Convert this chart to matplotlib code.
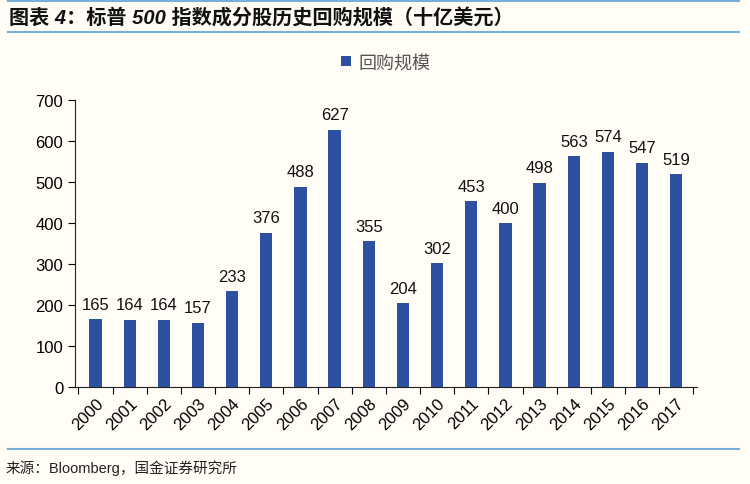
import matplotlib
matplotlib.use("Agg")
import matplotlib.pyplot as plt
from matplotlib.lines import Line2D

plt.rcParams['font.family'] = ['Liberation Sans', 'Noto Sans CJK SC', 'DejaVu Sans']

years = [str(y) for y in range(2000, 2018)]
buybacks = [165, 164, 164, 157, 233, 376, 488, 627, 355, 204, 302, 453, 400, 498, 563, 574, 547, 519]
series_name = "回购规模"
title = "图表 4：标普 500 指数成分股历史回购规模（十亿美元）"
source = "来源：Bloomberg，国金证券研究所"

bg = "#fffdf5"
bar_color = "#2e50a0"
rule_color = "#7ab0d8"

fig = plt.figure(figsize=(7.5, 4.85), dpi=100, facecolor=bg)
ax = fig.add_axes([0.1, 0.2, 0.829, 0.592], facecolor=bg)

x = list(range(len(years)))
bars = ax.bar(x, buybacks, width=0.36, color=bar_color, label=series_name, zorder=2)
for xi, v in zip(x, buybacks):
    ax.text(xi, v + 18, str(v), ha="center", va="bottom", fontsize=12, color="#111111")

ax.set_ylim(0, 700)
ax.set_yticks(range(0, 701, 100))
ax.set_xlim(-0.6, len(years) - 0.4)
ax.set_xticks([i - 0.5 for i in range(len(years) + 1)], minor=False)
ax.set_xticklabels([""] * (len(years) + 1))
ax.set_xticks(x, minor=True)
ax.set_xticklabels(years, minor=True, rotation=45, ha="right", rotation_mode="anchor", fontsize=12)
ax.tick_params(axis="x", which="minor", length=0, pad=6)
ax.tick_params(axis="x", which="major", length=5, direction="out")
ax.tick_params(axis="y", length=5, direction="out", labelsize=12)
for s in ["top", "right"]:
    ax.spines[s].set_visible(False)
ax.spines["left"].set_color("#222222")
ax.spines["bottom"].set_color("#222222")

ax.legend(loc="upper center", bbox_to_anchor=(0.5, 1.215), frameon=False,
          fontsize=13, handlelength=0.55, handleheight=0.55, handletextpad=0.4,
          labelcolor="#555555")

fig.text(0.012, 0.962, title, fontsize=14.5, fontweight="bold", color="#111111",
         ha="left", va="center", style="italic")
fig.add_artist(Line2D([0.01, 0.985], [0.996, 0.996], color=rule_color, lw=1.5))
fig.add_artist(Line2D([0.01, 0.985], [0.932, 0.932], color=rule_color, lw=1.5))
fig.add_artist(Line2D([0.01, 0.985], [0.072, 0.072], color=rule_color, lw=1.5))
fig.text(0.008, 0.035, source, fontsize=10.5, color="#222222", ha="left", va="center")

fig.savefig("out.png", dpi=100, facecolor=bg)
